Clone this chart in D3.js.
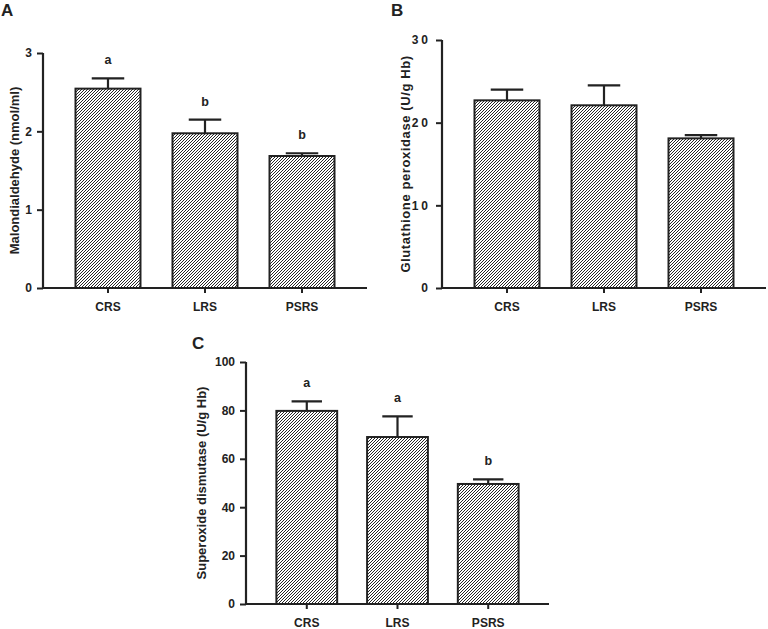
<!DOCTYPE html>
<html>
<head>
<meta charset="utf-8">
<script src="https://cdn.jsdelivr.net/npm/d3@7"></script>
<style>
  body { margin: 0; background: #fff; }
  svg text { font-family: "Liberation Sans", Arial, sans-serif; font-weight: bold; fill: #222; }
</style>
</head>
<body>
<svg id="fig" width="768" height="629"></svg>
<script>
// groups shared by all three panels
const groups = ['CRS', 'LRS', 'PSRS'];

// A: malondialdehyde
const mdaMean = [2.545, 1.975, 1.685];
const mdaErr = [0.13, 0.175, 0.035];
const mdaSig = ['a', 'b', 'b'];
const mdaTicks = [0, 1, 2, 3];

// B: glutathione peroxidase
const gpxMean = [22.7, 22.1, 18.1];
const gpxErr = [1.3, 2.4, 0.4];
const gpxSig = ['', '', ''];
const gpxTicks = [0, 10, 20, 30];

// C: superoxide dismutase
const sodMean = [79.8, 69.0, 49.6];
const sodErr = [3.9, 8.5, 1.9];
const sodSig = ['a', 'a', 'b'];
const sodTicks = [0, 20, 40, 60, 80, 100];

const svg = d3.select('#fig');
const ink = '#222';

// diagonal hatch fill, 3px tile so it sits on the pixel grid
const defs = svg.append('defs');
defs.append('pattern')
  .attr('id', 'hatch')
  .attr('patternUnits', 'userSpaceOnUse')
  .attr('width', 3).attr('height', 3)
  .append('path')
  .attr('d', 'M0,3L3,0M-1,1L1,-1M2,4L4,2')
  .attr('stroke', '#1a1a1a')
  .attr('stroke-width', 0.95);

function panel(cfg) {
  const x = d3.scaleBand().domain(groups)
    .range([cfg.left, cfg.right]).paddingInner(0.33).paddingOuter(0.335);
  const y = d3.scaleLinear().domain([0, cfg.max]).range([cfg.bottom, cfg.top]);
  const g = svg.append('g');

  // bars
  const data = groups.map((k, i) => ({ k, m: cfg.mean[i], e: cfg.err[i], s: cfg.sig[i] }));
  const cap = x.bandwidth() * 0.25;

  g.selectAll('.err').data(data).enter().append('path')
    .attr('d', d => {
      const cx = x(d.k) + x.bandwidth() / 2;
      return `M${cx},${y(d.m)}V${y(d.m + d.e)}M${cx - cap},${y(d.m + d.e)}H${cx + cap}`;
    })
    .attr('stroke', ink).attr('stroke-width', 2.2).attr('fill', 'none');

  g.selectAll('.bar').data(data).enter().append('rect')
    .attr('x', d => x(d.k))
    .attr('y', d => y(d.m))
    .attr('width', x.bandwidth())
    .attr('height', d => y(0) - y(d.m))
    .attr('fill', 'url(#hatch)')
    .attr('stroke', ink).attr('stroke-width', 2);

  g.selectAll('.sig').data(data).enter().append('text')
    .attr('x', d => x(d.k) + x.bandwidth() / 2)
    .attr('y', d => y(d.m + d.e) - cfg.sigGap)
    .attr('text-anchor', 'middle')
    .attr('font-size', 12.5)
    .text(d => d.s);

  // axes
  const ya = g.append('g').attr('transform', `translate(${cfg.left},0)`)
    .call(d3.axisLeft(y).tickValues(cfg.ticks).tickSize(6).tickPadding(5).tickFormat(d3.format('d')));
  ya.select('.domain').attr('stroke', ink).attr('stroke-width', 2.2).attr('d', `M0,${cfg.top}V${cfg.bottom}`);
  ya.selectAll('.tick line').attr('stroke', ink).attr('stroke-width', 2);
  ya.selectAll('.tick text').attr('font-size', 12).attr('fill', ink)
    .style('font-family', '"Liberation Sans", Arial, sans-serif').style('font-weight', 'bold')
    .attr('letter-spacing', cfg.spaced ? 3 : 0);

  const xa = g.append('g').attr('transform', `translate(0,${cfg.bottom})`)
    .call(d3.axisBottom(x).tickSize(5).tickPadding(9));
  xa.select('.domain').attr('stroke', ink).attr('stroke-width', 2.2).attr('d', `M${cfg.left},0H${cfg.right}`);
  xa.selectAll('.tick line').attr('stroke', ink).attr('stroke-width', 2);
  xa.selectAll('.tick text').attr('font-size', 12).attr('fill', ink)
    .style('font-family', '"Liberation Sans", Arial, sans-serif').style('font-weight', 'bold');

  // axis title
  g.append('text')
    .attr('transform', `translate(${cfg.titleX},${(cfg.top + cfg.bottom) / 2}) rotate(-90)`)
    .attr('text-anchor', 'middle')
    .attr('dominant-baseline', 'central')
    .attr('font-size', 13)
    .attr('letter-spacing', cfg.titleSpacing || 0)
    .text(cfg.title);

  // panel letter
  g.append('text')
    .attr('x', cfg.letterX).attr('y', cfg.letterY)
    .attr('font-size', 17)
    .text(cfg.letter);
}

panel({ left: 43, right: 367, top: 53, bottom: 288, max: 3, ticks: mdaTicks,
  mean: mdaMean, err: mdaErr, sig: mdaSig, sigGap: 14,
  title: 'Malondialdehyde (nmol/ml)', titleX: 14, letter: 'A', letterX: 1, letterY: 16 });

panel({ left: 442, right: 766, top: 40, bottom: 288, max: 30, ticks: gpxTicks, spaced: true,
  mean: gpxMean, err: gpxErr, sig: gpxSig, sigGap: 14,
  title: 'Glutathione peroxidase (U/g Hb)', titleX: 405, titleSpacing: 0.6,
  letter: 'B', letterX: 391, letterY: 16 });

panel({ left: 246, right: 549, top: 362, bottom: 604, max: 100, ticks: sodTicks,
  mean: sodMean, err: sodErr, sig: sodSig, sigGap: 14,
  title: 'Superoxide dismutase (U/g Hb)', titleX: 201, letter: 'C', letterX: 192, letterY: 349 });
</script>
</body>
</html>
